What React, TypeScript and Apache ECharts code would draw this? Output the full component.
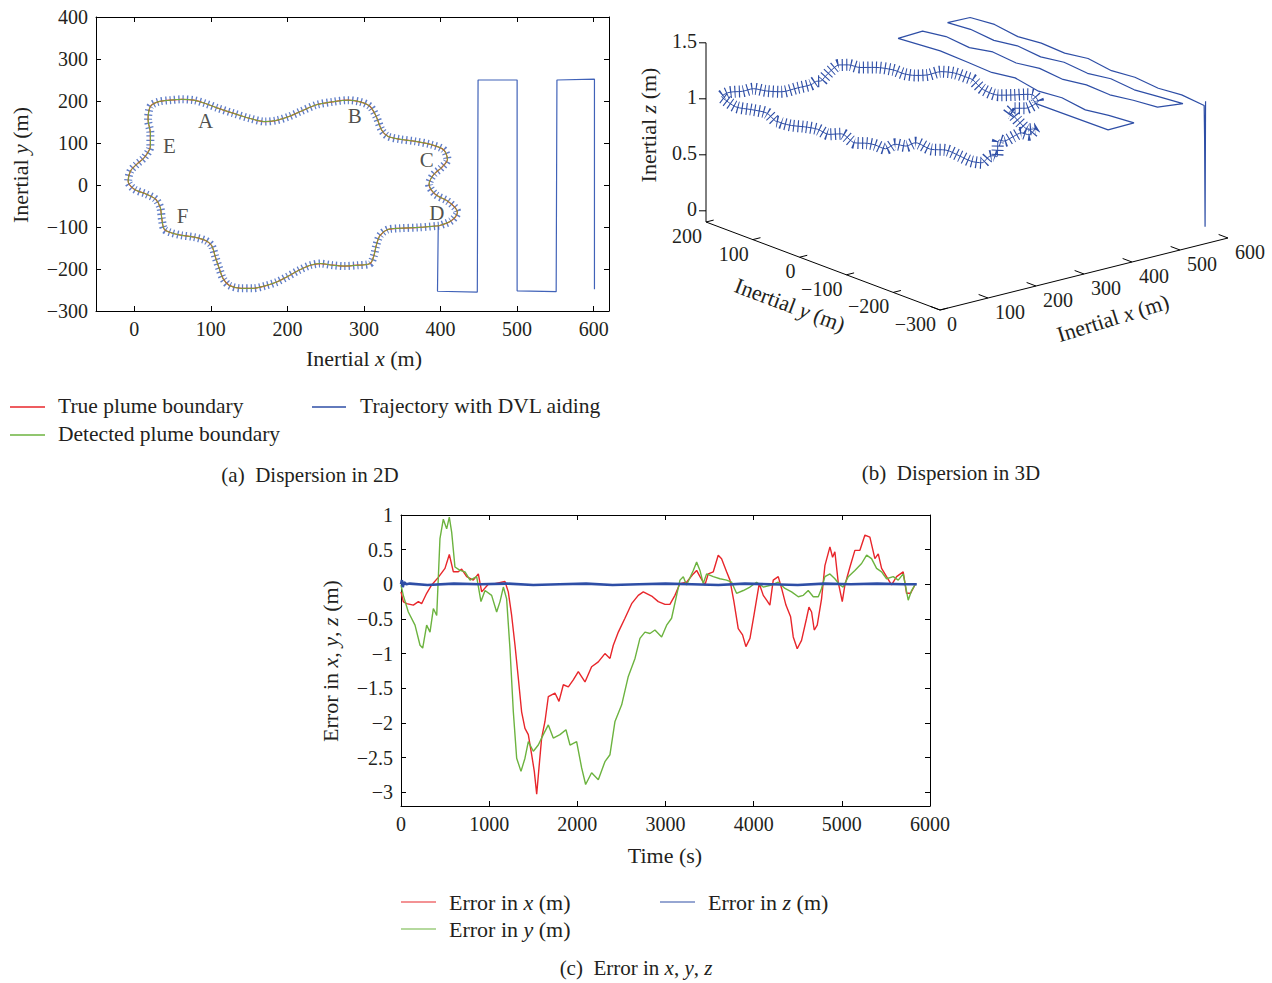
import React, { useEffect, useRef } from "react";
import * as echarts from "echarts";

const FONT = '"Liberation Serif", "Times New Roman", serif';
const RED = "#e8262b";
const GREEN = "#6cb33f";
const BLUE = "#2e4ea6";
const INK = "#231f20";

// ---------- Panel (a): plume boundary and trajectory ----------
const BOUNDARY_X = [398, 372, 347, 331, 321, 316, 313, 308, 292, 274, 259, 243, 230, 215, 199, 186, 171, 155, 140, 124,
  116, 111, 106, 101, 93, 78, 62, 47, 39, 36, 34, 28, 16, 0, -8, -5, 3, 13, 21, 21,
  18, 21, 31, 47, 62, 78, 93, 109, 129, 150, 171, 186, 202, 217, 238, 259, 279, 295, 308, 316,
  323, 331, 347, 367, 388, 404, 409, 401, 391, 385, 393, 409, 419, 422, 414, 398];
const BOUNDARY_Y = [-97, -101, -103, -106, -120, -144, -168, -187, -191, -193, -191, -187, -191, -203, -219, -231, -240, -246, -246, -239,
  -223, -199, -172, -144, -132, -124, -120, -113, -105, -81, -54, -34, -22, -10, 9, 33, 49, 65, 92, 124,
  155, 187, 198, 202, 204, 202, 194, 183, 171, 159, 151, 154, 163, 175, 191, 198, 202, 198, 187, 163,
  131, 116, 109, 104, 96, 84, 61, 41, 25, 2, -22, -38, -54, -65, -85, -97];
const LAWN_X = [397, 396, 448, 449, 500, 500, 551, 552, 601, 601];
const LAWN_Y = [-95, -253, -255, 250, 250, -252, -254, 250, 252, -248];
const POINT_NAMES = ["A", "B", "C", "D", "E", "F"];
const POINT_X = [93, 288, 382, 395, 46, 63];
const POINT_Y = [152, 164, 60, -67, 93, -74];
const X2D_TICKS = [0, 100, 200, 300, 400, 500, 600];

// ---------- Panel (b): 3D trajectory ----------
const LOOP_Z = [1.0, 0.99, 1.02, 0.99, 1.03, 1.0, 0.97, 1.01, 0.98, 1.02,
  1.0, 0.97, 1.0, 1.02, 0.99, 0.96, 1.0, 1.02, 0.98, 1.0,
  1.03, 1.05, 1.02, 1.04, 1.0, 1.02, 0.99, 1.03, 1.04, 1.01,
  1.05, 1.02, 1.06, 1.08, 1.07, 1.05, 1.03, 1.0, 1.02, 1.0,
  0.98, 1.01, 0.99, 1.0, 0.99, 0.98, 1.0, 0.98, 0.97, 1.0,
  1.02, 1.03, 1.0, 0.97, 0.95, 0.98, 1.0, 0.99, 0.97, 1.0,
  1.02, 1.0, 0.98, 0.97, 0.99, 0.98, 0.97, 0.99, 1.0, 0.98,
  0.96, 0.97, 0.99, 1.0, 0.98, 1.0];
const LAWN3_X = [397, 396, 448, 449, 449, 449, 449, 449, 449, 449, 449, 449, 500,
  500, 500, 500, 500, 500, 500, 500, 500, 500, 500, 551,
  551, 551, 551, 551, 551, 551, 551, 551, 551, 552, 601,
  601, 601, 601, 601, 601, 601, 601, 601, 601, 601, 601, 601, 602];
const LAWN3_Y = [-95, -253, -255, -200, -150, -100, -50, 0, 50, 100, 160, 250, 250,
  200, 150, 100, 50, 0, -50, -100, -150, -200, -252, -254,
  -200, -150, -100, -50, 0, 50, 100, 150, 200, 250, 252,
  200, 150, 100, 50, 0, -50, -100, -150, -200, -248, -249, -250, -250];
const LAWN3_Z = [1.0, 1.01, 1.02, 1.0, 0.97, 1.0, 0.98, 1.02, 0.99, 1.0, 1.01, 0.98, 0.99,
  1.02, 1.0, 1.04, 1.02, 1.05, 1.03, 1.06, 1.05, 1.08, 1.1, 1.08,
  1.06, 1.04, 1.06, 1.03, 1.05, 1.02, 1.04, 1.01, 1.03, 1.01, 1.0,
  1.02, 0.99, 1.01, 1.0, 1.03, 1.0, 1.02, 1.0, 1.02, 1.0, 0.7, -0.08, 1.04];
const X3D_TICKS = [0, 100, 200, 300, 400, 500, 600];
const Y3D_TICKS = [200, 100, 0, -100, -200, -300];
const Z3D_TICKS = [0, 0.5, 1, 1.5];

// ---------- Panel (c): errors ----------
const ERR_X_T = [0, 26, 64, 140, 197, 234, 291, 348, 423, 499, 548, 594, 650, 688, 745, 820, 877, 915, 990, 1066,
  1179, 1217, 1255, 1293, 1331, 1368, 1406, 1444, 1482, 1512, 1539, 1565, 1595, 1633, 1671, 1746, 1792, 1841, 1898, 1954,
  2011, 2087, 2162, 2238, 2313, 2370, 2408, 2465, 2540, 2616, 2691, 2748, 2843, 2918, 2994, 3050, 3107, 3164, 3239, 3315,
  3353, 3391, 3447, 3485, 3542, 3598, 3636, 3693, 3731, 3776, 3825, 3874, 3912, 3958, 4003, 4063, 4109, 4147, 4184, 4222,
  4279, 4317, 4366, 4419, 4449, 4494, 4543, 4600, 4627, 4657, 4687, 4721, 4770, 4808, 4865, 4895, 4921, 4959, 5005, 5035,
  5092, 5148, 5205, 5262, 5318, 5375, 5413, 5451, 5507, 5564, 5621, 5696, 5734, 5780, 5829];
const ERR_X_V = [-0.11, -0.25, -0.28, -0.3, -0.25, -0.28, -0.13, -0.01, 0.1, 0.23, 0.43, 0.18, 0.18, 0.22, 0.11, 0.06, 0.15, -0.11, 0.0, 0.01,
  0.04, -0.11, -0.45, -0.88, -1.36, -1.84, -2.08, -2.17, -2.46, -2.7, -3.03, -2.65, -2.22, -1.98, -1.62, -1.57, -1.69, -1.45, -1.48, -1.38,
  -1.26, -1.41, -1.19, -1.12, -1.0, -1.07, -0.88, -0.69, -0.49, -0.28, -0.16, -0.11, -0.17, -0.25, -0.29, -0.29, -0.16, 0.01, 0.03, 0.15,
  0.2, 0.11, -0.01, 0.15, 0.18, 0.42, 0.37, 0.18, 0.06, -0.25, -0.64, -0.73, -0.9, -0.78, -0.45, 0.01, -0.16, -0.23, -0.3, 0.06,
  0.11, -0.06, -0.3, -0.47, -0.76, -0.93, -0.81, -0.49, -0.33, -0.4, -0.66, -0.59, -0.21, 0.27, 0.54, 0.39, 0.47, 0.03, -0.25, -0.01,
  0.25, 0.49, 0.49, 0.71, 0.68, 0.37, 0.44, 0.23, 0.11, -0.01, 0.11, 0.18, -0.13, -0.13, -0.01];
const ERR_Y_T = [0, 26, 83, 159, 216, 246, 291, 329, 367, 405, 442, 480, 518, 548, 575, 612, 669, 726, 783, 858,
  907, 953, 1028, 1085, 1123, 1161, 1198, 1236, 1274, 1312, 1361, 1406, 1444, 1501, 1557, 1614, 1671, 1727, 1803, 1871,
  1917, 1992, 2049, 2094, 2162, 2238, 2313, 2370, 2427, 2503, 2578, 2654, 2710, 2767, 2824, 2880, 2956, 3013, 3069, 3126,
  3164, 3202, 3239, 3315, 3353, 3391, 3428, 3466, 3542, 3617, 3693, 3750, 3806, 3882, 3958, 4033, 4109, 4203, 4279, 4355,
  4430, 4506, 4563, 4619, 4676, 4733, 4770, 4808, 4865, 4921, 4978, 5016, 5073, 5148, 5224, 5281, 5337, 5394, 5451, 5507,
  5583, 5640, 5696, 5753, 5791, 5829];
const ERR_Y_V = [-0.01, -0.16, -0.4, -0.59, -0.88, -0.92, -0.59, -0.69, -0.35, -0.45, 0.66, 0.94, 0.8, 0.97, 0.75, 0.25, 0.2, 0.18, 0.06, 0.11,
  -0.25, -0.09, -0.16, -0.4, -0.25, -0.04, -0.21, -0.93, -1.84, -2.51, -2.7, -2.51, -2.27, -2.41, -2.32, -2.17, -2.03, -2.22, -2.17, -2.1,
  -2.32, -2.27, -2.65, -2.89, -2.72, -2.82, -2.56, -2.46, -1.98, -1.74, -1.33, -1.07, -0.78, -0.69, -0.71, -0.66, -0.76, -0.59, -0.49, -0.16,
  0.06, 0.11, -0.01, 0.2, 0.32, 0.2, 0.01, 0.15, 0.11, 0.08, 0.06, 0.03, -0.13, -0.09, -0.04, 0.03, -0.04, -0.01, 0.03, -0.06,
  -0.11, -0.18, -0.16, -0.09, -0.18, -0.18, -0.06, 0.11, 0.15, 0.08, -0.01, -0.04, 0.11, 0.2, 0.3, 0.42, 0.37, 0.23, 0.18, 0.08,
  0.11, 0.06, 0.15, -0.23, -0.09, -0.01];
const ERR_Z_T = [0, 10, 20, 35, 60, 100, 300, 600, 900, 1200, 1500, 1800, 2100, 2400, 2700, 3000, 3300, 3600, 3900, 4200, 4500, 4800, 5100, 5400, 5700, 5850];
const ERR_Z_V = [0, 0.06, -0.04, 0.03, 0, 0.01, -0.01, 0.01, 0, 0.01, -0.01, 0, 0.01, -0.01, 0, 0.01, 0, -0.01, 0.01, 0, -0.01, 0.01, 0, 0.01, 0, 0];
const YC_TICKS = [-3, -2.5, -2, -1.5, -1, -0.5, 0, 0.5, 1];

// ---------- 3D projection (layout) ----------
const P3 = { ox: 940, oy: 310, xdx: 0.48, xdy: -0.12, ydx: -0.468, ydy: -0.176, zdy: -112, yRef: -300, zRef: -0.1 };
function proj(x: number, y: number, z: number): [number, number] {
  return [
    P3.ox + x * P3.xdx + (y - P3.yRef) * P3.ydx,
    P3.oy + x * P3.xdy + (y - P3.yRef) * P3.ydy + (z - P3.zRef) * P3.zdy,
  ];
}

const minus = (v: number) => (v < 0 ? "\u2212" + Math.abs(v) : String(v));

function rich(size: number) {
  return {
    a: { fontFamily: FONT, fontSize: size, fill: INK },
    i: { fontFamily: FONT, fontSize: size, fill: INK, fontStyle: "italic" },
  };
}

function richText(text: string, x: number, y: number, size: number, align = "left", rotation = 0): any {
  return {
    type: "text",
    x,
    y,
    rotation,
    silent: true,
    style: { text, rich: rich(size), align, verticalAlign: "middle", textAlign: align, textVerticalAlign: "middle" },
  };
}

function plainText(text: string, x: number, y: number, size: number, align = "left"): any {
  return {
    type: "text",
    x,
    y,
    silent: true,
    style: { text, fill: INK, font: `${size}px ${FONT}`, align, verticalAlign: "middle", textAlign: align, textVerticalAlign: "middle" },
  };
}

function seg(x1: number, y1: number, x2: number, y2: number, color: string, w = 1): any {
  return { type: "line", silent: true, shape: { x1, y1, x2, y2 }, style: { stroke: color, lineWidth: w } };
}

export default function App() {
  const ref = useRef<HTMLDivElement>(null);

  useEffect(() => {
    if (!ref.current) return;
    const chart = echarts.init(ref.current, undefined, { renderer: "svg" });

    const boundary = BOUNDARY_X.map((x, i) => [x, BOUNDARY_Y[i]]);
    const lawn = LAWN_X.map((x, i) => [x, LAWN_Y[i]]);
    const loop3 = BOUNDARY_X.map((x, i) => proj(x, BOUNDARY_Y[i], LOOP_Z[i]));
    const lawn3 = LAWN3_X.map((x, i) => proj(x, LAWN3_Y[i], LAWN3_Z[i]));

    const tickFont = { fontFamily: FONT, fontSize: 20, color: INK };
    const axisLine = { show: true, onZero: false, lineStyle: { color: "#000", width: 1 } };

    const boxX = (grid: number, min: number, max: number, ticks: number[] | null, interval: number | null) => {
      const tick: any = { show: true, inside: true, length: 5, lineStyle: { color: "#000" } };
      const lab: any = { ...tickFont, margin: 8, formatter: (v: number) => minus(v) };
      const base: any = { type: "value", gridIndex: grid, min, max, splitLine: { show: false }, axisLine };
      if (ticks) { tick.customValues = ticks; lab.customValues = ticks; }
      if (interval) base.interval = interval;
      return [
        { ...base, position: "bottom", axisTick: tick, axisLabel: lab },
        { ...base, position: "top", axisTick: tick, axisLabel: { show: false } },
      ];
    };
    const boxY = (grid: number, min: number, max: number, ticks: number[] | null, interval: number | null) => {
      const tick: any = { show: true, inside: true, length: 5, lineStyle: { color: "#000" } };
      const lab: any = { ...tickFont, margin: 8, formatter: (v: number) => minus(v) };
      const base: any = { type: "value", gridIndex: grid, min, max, splitLine: { show: false }, axisLine };
      if (ticks) { tick.customValues = ticks; lab.customValues = ticks; }
      if (interval) base.interval = interval;
      return [
        { ...base, position: "left", axisTick: tick, axisLabel: lab },
        { ...base, position: "right", axisTick: tick, axisLabel: { show: false } },
      ];
    };

    const graphics: any[] = [];
    // Panel (a) titles, legend, caption
    graphics.push(richText("{a|Inertial }{i|x}{a| (m)}", 364, 358, 22, "center"));
    graphics.push(richText("{a|Inertial }{i|y}{a| (m)}", 20, 165, 22, "center", Math.PI / 2));
    graphics.push(seg(10, 407, 45, 407, RED, 1.5));
    graphics.push(plainText("True plume boundary", 58, 406, 21.5));
    graphics.push(seg(312, 407, 346, 407, BLUE, 1.5));
    graphics.push(plainText("Trajectory with DVL aiding", 360, 406, 21.5));
    graphics.push(seg(10, 435, 45, 435, GREEN, 1.5));
    graphics.push(plainText("Detected plume boundary", 58, 434, 21.5));
    graphics.push(plainText("(a)  Dispersion in 2D", 310, 475, 21, "center"));
    // Panel (b) axes
    const c0 = proj(0, 200, P3.zRef);
    const zTop = proj(0, 200, 1.5);
    graphics.push(seg(c0[0], c0[1], zTop[0], zTop[1], "#000"));
    const yEnd = proj(0, -300, P3.zRef);
    graphics.push(seg(c0[0], c0[1], yEnd[0], yEnd[1], "#000"));
    const xEnd = proj(600, -300, P3.zRef);
    graphics.push(seg(yEnd[0], yEnd[1], xEnd[0], xEnd[1], "#000"));
    Z3D_TICKS.forEach((z) => {
      const p = proj(0, 200, z);
      graphics.push(seg(p[0] - 7, p[1], p[0], p[1], "#000"));
      graphics.push(plainText(String(z), p[0] - 9, p[1] - 2, 20, "right"));
    });
    Y3D_TICKS.forEach((y) => {
      const p = proj(0, y, P3.zRef);
      const q = proj(16, y, P3.zRef);
      graphics.push(seg(p[0], p[1], q[0], q[1], "#000"));
      graphics.push(plainText(minus(y), p[0] - 4, p[1] + 14, 20, "right"));
    });
    X3D_TICKS.forEach((x) => {
      const p = proj(x, -300, P3.zRef);
      const q = proj(x, -280, P3.zRef);
      graphics.push(seg(p[0], p[1], q[0], q[1], "#000"));
      graphics.push(plainText(String(x), p[0] + 7, p[1] + 14, 20, "left"));
    });
    graphics.push(richText("{a|Inertial }{i|z}{a| (m)}", 648, 125, 22, "center", Math.PI / 2));
    graphics.push(richText("{a|Inertial }{i|y}{a| (m)}", 790, 305, 22, "center", -0.36));
    graphics.push(richText("{a|Inertial }{i|x}{a| (m)}", 1113, 318, 22, "center", 0.3));
    graphics.push(plainText("(b)  Dispersion in 3D", 951, 473, 21, "center"));
    // Panel (c)
    graphics.push(richText("{a|Error in }{i|x}{a|, }{i|y}{a|, }{i|z}{a| (m)}", 330, 661, 22, "center", Math.PI / 2));
    graphics.push(plainText("Time (s)", 665, 855, 22, "center"));
    graphics.push(seg(401, 902, 436, 902, RED, 1.2));
    graphics.push(richText("{a|Error in }{i|x}{a| (m)}", 449, 902, 22));
    graphics.push(seg(660, 902, 695, 902, BLUE, 1.2));
    graphics.push(richText("{a|Error in }{i|z}{a| (m)}", 708, 902, 22));
    graphics.push(seg(401, 929, 436, 929, GREEN, 1.2));
    graphics.push(richText("{a|Error in }{i|y}{a| (m)}", 449, 929, 22));
    graphics.push(richText("{a|(c)  Error in }{i|x}{a|, }{i|y}{a|, }{i|z}", 636, 968, 21, "center"));

    const option: any = {
      animation: false,
      backgroundColor: "#fff",
      grid: [
        { left: 96, top: 17, width: 513, height: 294 },
        { left: 401, top: 515, width: 529, height: 291 },
        { left: 0, top: 0, width: 1272, height: 983 },
      ],
      xAxis: [
        ...boxX(0, -50, 620, X2D_TICKS, null),
        ...boxX(1, 0, 6000, null, 1000),
        { type: "value", gridIndex: 2, min: 0, max: 1272, show: false },
      ],
      yAxis: [
        ...boxY(0, -300, 400, null, 100),
        ...boxY(1, -3.2, 1, YC_TICKS, null),
        { type: "value", gridIndex: 2, min: 0, max: 983, inverse: true, show: false },
      ],
      series: [
        {
          type: "line", xAxisIndex: 0, yAxisIndex: 0, data: boundary, smooth: 0.3, showSymbol: false,
          lineStyle: { color: "#4d6fc2", width: 8, type: [1.3, 3], cap: "butt", opacity: 0.9 },
        },
        {
          type: "line", xAxisIndex: 0, yAxisIndex: 0, data: lawn, showSymbol: false,
          lineStyle: { color: "#4062b8", width: 1.2 },
        },
        {
          type: "line", xAxisIndex: 0, yAxisIndex: 0, data: boundary, smooth: 0.3, showSymbol: false,
          lineStyle: { color: RED, width: 1.2 },
        },
        {
          type: "line", xAxisIndex: 0, yAxisIndex: 0, data: boundary, smooth: 0.3, showSymbol: false,
          lineStyle: { color: GREEN, width: 1 },
        },
        {
          type: "scatter", xAxisIndex: 0, yAxisIndex: 0, symbolSize: 0,
          data: POINT_NAMES.map((n, i) => ({ name: n, value: [POINT_X[i], POINT_Y[i]] })),
          label: { show: true, position: "inside", formatter: "{b}", fontFamily: FONT, fontSize: 21, color: INK },
        },
        {
          type: "line", xAxisIndex: 2, yAxisIndex: 2, data: ERR_X_T.map((t, i) => [t, ERR_X_V[i]]), showSymbol: false,
          lineStyle: { color: RED, width: 1.4 },
        },
        {
          type: "line", xAxisIndex: 2, yAxisIndex: 2, data: ERR_Y_T.map((t, i) => [t, ERR_Y_V[i]]), showSymbol: false,
          lineStyle: { color: GREEN, width: 1.4 },
        },
        {
          type: "line", xAxisIndex: 2, yAxisIndex: 2, data: ERR_Z_T.map((t, i) => [t, ERR_Z_V[i]]), showSymbol: false,
          lineStyle: { color: BLUE, width: 2.6 },
        },
        {
          type: "line", xAxisIndex: 4, yAxisIndex: 4, data: loop3, smooth: 0.3, showSymbol: false,
          lineStyle: { color: BLUE, width: 12, type: [1.1, 3.2], cap: "butt" },
        },
        {
          type: "line", xAxisIndex: 4, yAxisIndex: 4, data: loop3, smooth: 0.3, showSymbol: false,
          lineStyle: { color: BLUE, width: 1 },
        },
        {
          type: "line", xAxisIndex: 4, yAxisIndex: 4, data: lawn3, showSymbol: false,
          lineStyle: { color: BLUE, width: 1.2 },
        },
      ],
      graphic: graphics,
    };
    chart.setOption(option);
    return () => chart.dispose();
  }, []);

  return <div ref={ref} style={{ position: "absolute", left: 0, top: 0, width: 1272, height: 983 }} />;
}
